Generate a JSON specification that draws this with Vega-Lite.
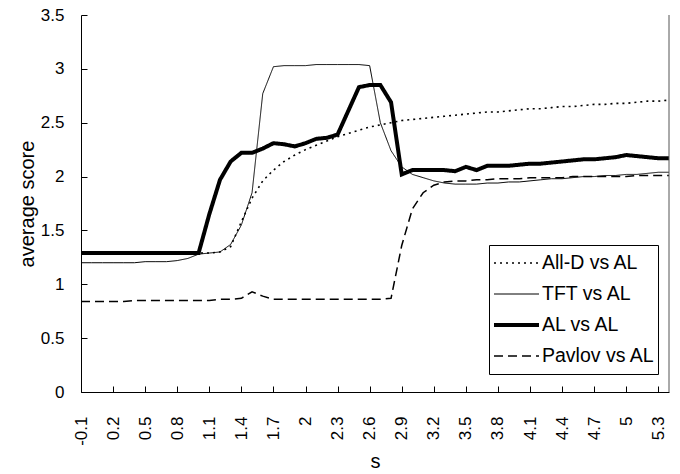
{
  "$schema": "https://vega.github.io/schema/vega-lite/v6.json",
  "width": 588,
  "height": 377,
  "autosize": "none",
  "padding": {"left": 81, "top": 15, "right": 11, "bottom": 82},
  "config": {
    "font": "Liberation Sans",
    "view": {"stroke": null},
    "axis": {
      "grid": false,
      "domainColor": "black",
      "tickColor": "black",
      "labelColor": "black",
      "titleColor": "black",
      "labelFont": "Liberation Sans",
      "titleFont": "Liberation Sans",
      "labelFontSize": 17,
      "titleFontSize": 20,
      "titleFontWeight": "normal",
      "labelOverlap": false
    },
    "legend": {
      "title": null,
      "orient": "none",
      "legendX": 408,
      "legendY": 230,
      "strokeColor": "black",
      "fillColor": "white",
      "padding": 3,
      "symbolType": "stroke",
      "symbolSize": 2025,
      "clipHeight": 30,
      "symbolStrokeColor": "black",
      "labelFont": "Liberation Sans",
      "labelFontSize": 19.5,
      "labelColor": "black",
      "labelOffset": 1,
      "rowPadding": 1
    }
  },
  "layer": [
    {
      "data": {
        "values": [
          {"s": -0.1, "All-D vs AL": 1.29, "TFT vs AL": 1.20, "AL vs AL": 1.29, "Pavlov vs AL": 0.84},
          {"s": 0.0, "All-D vs AL": 1.29, "TFT vs AL": 1.20, "AL vs AL": 1.29, "Pavlov vs AL": 0.84},
          {"s": 0.1, "All-D vs AL": 1.29, "TFT vs AL": 1.20, "AL vs AL": 1.29, "Pavlov vs AL": 0.84},
          {"s": 0.2, "All-D vs AL": 1.29, "TFT vs AL": 1.20, "AL vs AL": 1.29, "Pavlov vs AL": 0.84},
          {"s": 0.3, "All-D vs AL": 1.29, "TFT vs AL": 1.20, "AL vs AL": 1.29, "Pavlov vs AL": 0.84},
          {"s": 0.4, "All-D vs AL": 1.29, "TFT vs AL": 1.20, "AL vs AL": 1.29, "Pavlov vs AL": 0.85},
          {"s": 0.5, "All-D vs AL": 1.29, "TFT vs AL": 1.21, "AL vs AL": 1.29, "Pavlov vs AL": 0.85},
          {"s": 0.6, "All-D vs AL": 1.29, "TFT vs AL": 1.21, "AL vs AL": 1.29, "Pavlov vs AL": 0.85},
          {"s": 0.7, "All-D vs AL": 1.29, "TFT vs AL": 1.21, "AL vs AL": 1.29, "Pavlov vs AL": 0.85},
          {"s": 0.8, "All-D vs AL": 1.29, "TFT vs AL": 1.22, "AL vs AL": 1.29, "Pavlov vs AL": 0.85},
          {"s": 0.9, "All-D vs AL": 1.29, "TFT vs AL": 1.24, "AL vs AL": 1.29, "Pavlov vs AL": 0.85},
          {"s": 1.0, "All-D vs AL": 1.29, "TFT vs AL": 1.28, "AL vs AL": 1.29, "Pavlov vs AL": 0.85},
          {"s": 1.1, "All-D vs AL": 1.29, "TFT vs AL": 1.29, "AL vs AL": 1.65, "Pavlov vs AL": 0.85},
          {"s": 1.2, "All-D vs AL": 1.30, "TFT vs AL": 1.30, "AL vs AL": 1.97, "Pavlov vs AL": 0.86},
          {"s": 1.3, "All-D vs AL": 1.35, "TFT vs AL": 1.37, "AL vs AL": 2.14, "Pavlov vs AL": 0.86},
          {"s": 1.4, "All-D vs AL": 1.58, "TFT vs AL": 1.55, "AL vs AL": 2.22, "Pavlov vs AL": 0.87},
          {"s": 1.5, "All-D vs AL": 1.80, "TFT vs AL": 1.85, "AL vs AL": 2.22, "Pavlov vs AL": 0.93},
          {"s": 1.6, "All-D vs AL": 1.96, "TFT vs AL": 2.77, "AL vs AL": 2.26, "Pavlov vs AL": 0.89},
          {"s": 1.7, "All-D vs AL": 2.06, "TFT vs AL": 3.02, "AL vs AL": 2.31, "Pavlov vs AL": 0.86},
          {"s": 1.8, "All-D vs AL": 2.14, "TFT vs AL": 3.03, "AL vs AL": 2.30, "Pavlov vs AL": 0.86},
          {"s": 1.9, "All-D vs AL": 2.20, "TFT vs AL": 3.03, "AL vs AL": 2.28, "Pavlov vs AL": 0.86},
          {"s": 2.0, "All-D vs AL": 2.25, "TFT vs AL": 3.03, "AL vs AL": 2.31, "Pavlov vs AL": 0.86},
          {"s": 2.1, "All-D vs AL": 2.29, "TFT vs AL": 3.04, "AL vs AL": 2.35, "Pavlov vs AL": 0.86},
          {"s": 2.2, "All-D vs AL": 2.33, "TFT vs AL": 3.04, "AL vs AL": 2.36, "Pavlov vs AL": 0.86},
          {"s": 2.3, "All-D vs AL": 2.37, "TFT vs AL": 3.04, "AL vs AL": 2.39, "Pavlov vs AL": 0.86},
          {"s": 2.4, "All-D vs AL": 2.40, "TFT vs AL": 3.04, "AL vs AL": 2.61, "Pavlov vs AL": 0.86},
          {"s": 2.5, "All-D vs AL": 2.43, "TFT vs AL": 3.04, "AL vs AL": 2.83, "Pavlov vs AL": 0.86},
          {"s": 2.6, "All-D vs AL": 2.46, "TFT vs AL": 3.03, "AL vs AL": 2.85, "Pavlov vs AL": 0.86},
          {"s": 2.7, "All-D vs AL": 2.48, "TFT vs AL": 2.50, "AL vs AL": 2.85, "Pavlov vs AL": 0.86},
          {"s": 2.8, "All-D vs AL": 2.50, "TFT vs AL": 2.24, "AL vs AL": 2.69, "Pavlov vs AL": 0.87},
          {"s": 2.9, "All-D vs AL": 2.52, "TFT vs AL": 2.09, "AL vs AL": 2.02, "Pavlov vs AL": 1.36},
          {"s": 3.0, "All-D vs AL": 2.53, "TFT vs AL": 2.02, "AL vs AL": 2.06, "Pavlov vs AL": 1.70},
          {"s": 3.1, "All-D vs AL": 2.54, "TFT vs AL": 1.99, "AL vs AL": 2.06, "Pavlov vs AL": 1.85},
          {"s": 3.2, "All-D vs AL": 2.55, "TFT vs AL": 1.96, "AL vs AL": 2.06, "Pavlov vs AL": 1.92},
          {"s": 3.3, "All-D vs AL": 2.56, "TFT vs AL": 1.94, "AL vs AL": 2.06, "Pavlov vs AL": 1.95},
          {"s": 3.4, "All-D vs AL": 2.57, "TFT vs AL": 1.93, "AL vs AL": 2.05, "Pavlov vs AL": 1.96},
          {"s": 3.5, "All-D vs AL": 2.58, "TFT vs AL": 1.93, "AL vs AL": 2.09, "Pavlov vs AL": 1.96},
          {"s": 3.6, "All-D vs AL": 2.59, "TFT vs AL": 1.93, "AL vs AL": 2.06, "Pavlov vs AL": 1.97},
          {"s": 3.7, "All-D vs AL": 2.60, "TFT vs AL": 1.94, "AL vs AL": 2.10, "Pavlov vs AL": 1.97},
          {"s": 3.8, "All-D vs AL": 2.60, "TFT vs AL": 1.94, "AL vs AL": 2.10, "Pavlov vs AL": 1.98},
          {"s": 3.9, "All-D vs AL": 2.61, "TFT vs AL": 1.95, "AL vs AL": 2.10, "Pavlov vs AL": 1.98},
          {"s": 4.0, "All-D vs AL": 2.62, "TFT vs AL": 1.95, "AL vs AL": 2.11, "Pavlov vs AL": 1.98},
          {"s": 4.1, "All-D vs AL": 2.63, "TFT vs AL": 1.96, "AL vs AL": 2.12, "Pavlov vs AL": 1.99},
          {"s": 4.2, "All-D vs AL": 2.63, "TFT vs AL": 1.97, "AL vs AL": 2.12, "Pavlov vs AL": 1.99},
          {"s": 4.3, "All-D vs AL": 2.64, "TFT vs AL": 1.98, "AL vs AL": 2.13, "Pavlov vs AL": 1.99},
          {"s": 4.4, "All-D vs AL": 2.65, "TFT vs AL": 1.98, "AL vs AL": 2.14, "Pavlov vs AL": 1.99},
          {"s": 4.5, "All-D vs AL": 2.65, "TFT vs AL": 1.99, "AL vs AL": 2.15, "Pavlov vs AL": 2.00},
          {"s": 4.6, "All-D vs AL": 2.66, "TFT vs AL": 2.00, "AL vs AL": 2.16, "Pavlov vs AL": 2.00},
          {"s": 4.7, "All-D vs AL": 2.67, "TFT vs AL": 2.00, "AL vs AL": 2.16, "Pavlov vs AL": 2.00},
          {"s": 4.8, "All-D vs AL": 2.67, "TFT vs AL": 2.01, "AL vs AL": 2.17, "Pavlov vs AL": 2.00},
          {"s": 4.9, "All-D vs AL": 2.68, "TFT vs AL": 2.01, "AL vs AL": 2.18, "Pavlov vs AL": 2.00},
          {"s": 5.0, "All-D vs AL": 2.68, "TFT vs AL": 2.02, "AL vs AL": 2.20, "Pavlov vs AL": 2.00},
          {"s": 5.1, "All-D vs AL": 2.69, "TFT vs AL": 2.02, "AL vs AL": 2.19, "Pavlov vs AL": 2.01},
          {"s": 5.2, "All-D vs AL": 2.70, "TFT vs AL": 2.03, "AL vs AL": 2.18, "Pavlov vs AL": 2.01},
          {"s": 5.3, "All-D vs AL": 2.70, "TFT vs AL": 2.04, "AL vs AL": 2.17, "Pavlov vs AL": 2.01},
          {"s": 5.4, "All-D vs AL": 2.71, "TFT vs AL": 2.04, "AL vs AL": 2.17, "Pavlov vs AL": 2.01}
        ]
      },
      "transform": [
        {"fold": ["All-D vs AL", "TFT vs AL", "AL vs AL", "Pavlov vs AL"], "as": ["series", "score"]}
      ],
      "mark": {"type": "line", "color": "black", "strokeJoin": "miter", "strokeCap": "butt"},
      "encoding": {
        "x": {
          "field": "s",
          "type": "quantitative",
          "scale": {"domain": [-0.1, 5.4], "nice": false, "zero": false},
          "axis": {
            "title": "s",
            "values": [-0.1, 0.2, 0.5, 0.8, 1.1, 1.4, 1.7, 2, 2.3, 2.6, 2.9, 3.2, 3.5, 3.8, 4.1, 4.4, 4.7, 5, 5.3],
            "tickCount": 60,
            "labelExpr": "datum.value < 0 ? '-' + format(-datum.value, '~g') : format(datum.value, '~g')",
            "labelAngle": 270,
            "labelFlush": false,
            "labelOverlap": false,
            "labelBound": false,
            "tickSize": -6,
            "labelPadding": 30,
            "titlePadding": 6
          }
        },
        "y": {
          "field": "score",
          "type": "quantitative",
          "scale": {"domain": [0, 3.5], "nice": false},
          "axis": {
            "title": "average score",
            "values": [0, 0.5, 1, 1.5, 2, 2.5, 3, 3.5],
            "tickCount": 20,
            "format": "~g",
            "tickSize": -6,
            "labelPadding": 23,
            "titlePadding": 3
          }
        },
        "strokeDash": {
          "field": "series",
          "type": "nominal",
          "scale": {
            "domain": ["All-D vs AL", "TFT vs AL", "AL vs AL", "Pavlov vs AL"],
            "range": [[2, 4], [1, 0], [1, 0], [9, 5]]
          }
        },
        "strokeWidth": {
          "field": "series",
          "type": "ordinal",
          "scale": {
            "type": "ordinal",
            "domain": ["All-D vs AL", "TFT vs AL", "AL vs AL", "Pavlov vs AL"],
            "range": [1.6, 1, 4, 1.5]
          }
        }
      }
    },
    {
      "data": {"values": [{}]},
      "mark": {"type": "rule", "color": "#555555", "strokeWidth": 1},
      "encoding": {"x": {"datum": 5.4, "type": "quantitative"}}
    }
  ]
}
